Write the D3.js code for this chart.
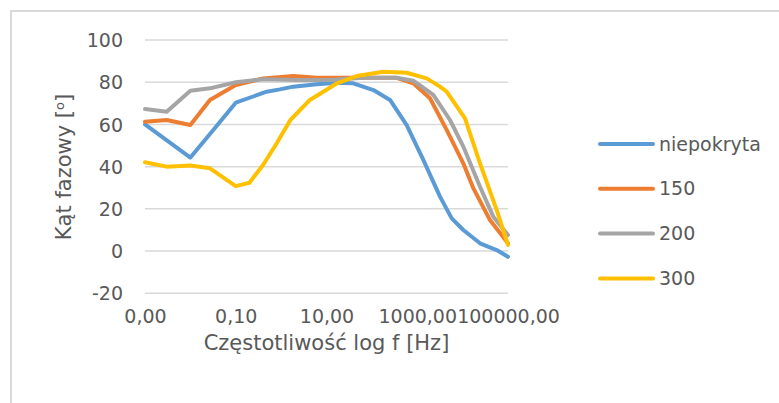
<!DOCTYPE html>
<html><head><meta charset="utf-8">
<script src="https://cdn.jsdelivr.net/npm/d3@7"></script>
<style>
body{margin:0;background:#fff;}
svg{display:block;font-family:"DejaVu Sans",sans-serif;}
</style></head><body>
<svg id="c" width="779" height="403"></svg>
<script>
const seriesNames = ["niepokryta", "150", "200", "300"];
const colors = ["#5B9BD5", "#ED7D31", "#A5A5A5", "#FFC000"];
const yTicks = [-20, 0, 20, 40, 60, 80, 100];
const xTicks = [0.001, 0.1, 10, 1000, 100000];
const xTickLabels = ["0,00", "0,10", "10,00", "1000,00", "100000,00"];

const freqNiepokryta = [0.001, 0.01, 0.032, 0.1, 0.48, 0.94, 1.85, 6.1, 17, 39, 108, 251, 585, 1360, 3170, 5750, 10350, 24150, 56200, 100000];
const phaseNiepokryta = [60, 44.3, 57.4, 70.3, 75.5, 76.6, 77.9, 79.0, 79.8, 79.5, 76.3, 71.6, 59.7, 43.2, 25.8, 15.5, 10, 3.7, 0.5, -2.7];

const freq150 = [0.001, 0.003, 0.01, 0.027, 0.1, 0.4, 1.85, 6.1, 23, 91, 352, 819, 1907, 4450, 10350, 17200, 40100, 100000];
const phase150 = [61.3, 62.1, 59.7, 71.6, 78.7, 81.8, 82.9, 82.1, 82.1, 82.1, 82.1, 79.5, 72.4, 57.4, 41.6, 29.8, 14.7, 3.7];

const freq200 = [0.001, 0.003, 0.01, 0.027, 0.1, 0.4, 2.2, 12, 65, 352, 819, 2259, 5270, 10350, 24150, 47400, 100000];
const phase200 = [67.3, 66.0, 76.0, 77.1, 80.0, 81.4, 81.1, 81.1, 82.1, 82.1, 80.7, 74.0, 62.1, 49.5, 30.5, 16.3, 7.6];

const freq300 = [0.001, 0.003, 0.01, 0.027, 0.1, 0.2, 0.4, 0.8, 1.6, 4.3, 8.5, 17, 46, 178, 585, 1614, 3170, 4450, 11280, 24150, 56200, 100000];
const phase300 = [42.1, 40.0, 40.5, 39.2, 30.8, 32.4, 40.8, 51.1, 62.1, 71.6, 75.5, 79.5, 82.9, 85.0, 84.5, 81.8, 77.9, 75.5, 62.9, 41.6, 19.5, 2.9];

const freqs = [freqNiepokryta, freq150, freq200, freq300];
const phases = [phaseNiepokryta, phase150, phase200, phase300];

const svg = d3.select("#c");
const textColor = "#595959";

// chart frame
svg.append("rect").attr("x", 11).attr("y", 11).attr("width", 800).attr("height", 420)
  .attr("fill", "none").attr("stroke", "#D9D9D9").attr("stroke-width", 2);

const x = d3.scaleLog().domain([0.001, 100000]).range([145, 508]);
const y = d3.scaleLinear().domain([-20, 100]).range([293.3, 40]);

// gridlines
svg.append("g").selectAll("line").data(yTicks).join("line")
  .attr("x1", 145).attr("x2", 508)
  .attr("y1", d => y(d)).attr("y2", d => y(d))
  .attr("stroke", "#D9D9D9").attr("stroke-width", 1.5);

// y axis labels
const yAxis = d3.axisLeft(y).tickValues(yTicks).tickSize(0).tickPadding(0).tickFormat(d => String(d));
const gy = svg.append("g").attr("transform", "translate(123,0)").call(yAxis);
gy.select(".domain").remove();
gy.selectAll("text").attr("fill", textColor).style("font-size", "19px").style("font-family", "DejaVu Sans").attr("dy", "0.35em");

// x axis labels
const xAxis = d3.axisBottom(x).tickValues(xTicks).tickSize(0).tickPadding(0)
  .tickFormat((d, i) => xTickLabels[i]);
const gx = svg.append("g").attr("transform", "translate(0,309)").call(xAxis);
gx.select(".domain").remove();
gx.selectAll("text").attr("fill", textColor).style("font-size", "19px").style("font-family", "DejaVu Sans").attr("dy", "0.71em");

// lines
const line = d3.line().x(d => x(d[0])).y(d => y(d[1])).curve(d3.curveLinear);
seriesNames.forEach((name, i) => {
  const pts = freqs[i].map((f, j) => [f, phases[i][j]]);
  svg.append("path").datum(pts).attr("d", line)
    .attr("fill", "none").attr("stroke", colors[i]).attr("stroke-width", 4)
    .attr("stroke-linejoin", "round").attr("stroke-linecap", "round");
});

// axis titles
svg.append("text").attr("x", 326.5).attr("y", 350).attr("text-anchor", "middle")
  .attr("fill", textColor).style("font-size", "21px").text("Częstotliwość log f [Hz]");
const yt = svg.append("text").attr("transform", "translate(71,167) rotate(-90)").attr("text-anchor", "middle")
  .attr("fill", textColor).style("font-size", "21px");
yt.append("tspan").text("Kąt fazowy [");
yt.append("tspan").attr("dy", -7).style("font-size", "13px").text("o");
yt.append("tspan").attr("dy", 7).text("]");

// legend
const leg = svg.append("g").selectAll("g").data(seriesNames).join("g")
  .attr("transform", (d, i) => `translate(0,${144 + i * 44.8})`);
leg.append("line").attr("x1", 600).attr("x2", 653).attr("y1", 0).attr("y2", 0)
  .attr("stroke", (d, i) => colors[i]).attr("stroke-width", 4).attr("stroke-linecap", "round");
leg.append("text").attr("x", 659).attr("y", 0).attr("dy", "0.35em")
  .attr("fill", textColor).style("font-size", "19px").text(d => d);
</script>
</body></html>
